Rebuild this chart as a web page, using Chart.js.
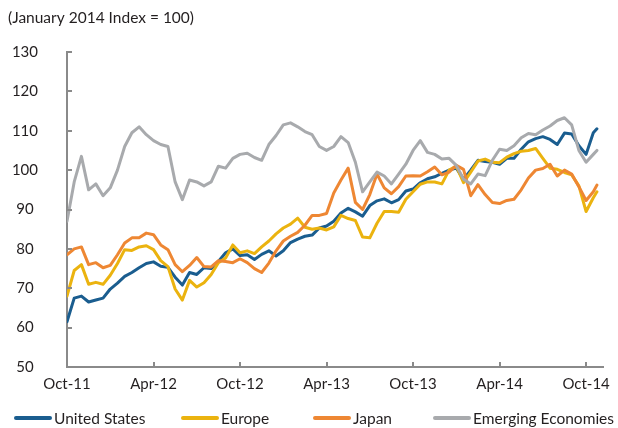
<!DOCTYPE html>
<html>
<head>
<meta charset="utf-8">
<title>Equity indices</title>
<script src="https://cdn.jsdelivr.net/npm/chart.js@4.4.1/dist/chart.umd.min.js"></script>
<style>
html,body{margin:0;padding:0;background:#ffffff;}
#wrap{position:relative;width:618px;height:428px;}
canvas{display:block;}
</style>
</head>
<body>
<div id="wrap"><canvas id="chart" width="618" height="428"></canvas></div>
<script>
const titleText = '(January 2014 Index = 100)';
// months since October 2011
const months = [0,0.5,1,1.5,2,2.5,3,3.5,4,4.5,5,5.5,6,6.5,7,7.5,8,8.5,9,9.5,10,10.5,11,11.5,12,12.5,13,13.5,14,14.5,15,15.5,16,16.5,17,17.5,18,18.5,19,19.5,20,20.5,21,21.5,22,22.5,23,23.5,24,24.5,25,25.5,26,26.5,27,27.5,28,28.5,29,29.5,30,30.5,31,31.5,32,32.5,33,33.5,34,34.5,35,35.5,36,36.5,36.75];
const xTickValues = [0,6,12,18,24,30,36];
const xTickLabels = ['Oct-11','Apr-12','Oct-12','Apr-13','Oct-13','Apr-14','Oct-14'];
const seriesNames = ['United States','Europe','Japan','Emerging Economies'];
const unitedStates = [61.5,67.5,68,66.5,67,67.5,69.8,71.3,73,74,
  75.2,76.3,76.7,75.6,75.3,72.8,70.8,74,73.5,75.2,
  75,76.8,79,80,78.3,78.5,77.3,78.6,79.5,78.2,
  79.5,81.6,82.5,83.2,83.5,85.3,85.8,87,89.1,90.3,
  89.4,88.3,91,92.2,92.7,91.7,92.5,94.7,95.2,96.8,
  97.8,98.3,99.2,100,100.5,97.7,100,102.5,102.2,102,
  101.5,103,103,105.3,107.2,108,108.5,107.8,106.5,109.4,
  109.2,106.2,104,109.5,110.5];
const europe = [68,74.5,76,71,71.5,71,73.3,76.3,79.8,79.6,
  80.5,80.8,79.8,77,75.5,69.8,67,72,70.3,71.4,
  73.5,76.5,77.7,81,79,79.5,78.8,80.5,82,83.8,
  85.3,86.3,87.8,85.5,85,85.3,84.8,85.6,88.5,87.7,
  87.2,83,82.8,86.5,89.5,89.5,89.3,92.6,94.5,96.4,
  97,97,96.5,100,101,96.8,99.5,102.3,102.8,102,
  101.9,103.3,104.2,104.8,105,105.5,103,100.5,100.2,99.4,
  98.8,96,89.5,93,94.5];
const japan = [78.5,80,80.5,76,76.5,75.2,75.8,78.5,81.5,82.8,
  82.8,84,83.6,81,79.8,76,74.2,75.8,77.8,75.5,
  75.4,77,76.8,76.5,77.5,76.5,75,74,76.4,79.5,
  82,83.2,84.2,86,88.5,88.5,89,94.2,97.5,100.5,
  91.8,90,93.8,99,95.5,94,95.8,98.5,98.6,98.5,
  99.6,100.8,98.8,99.5,101.2,100.2,93.5,96.3,93.8,91.8,
  91.5,92.3,92.6,95,98,100,100.4,101.5,98.5,100,
  99,95.8,92.3,94.5,96.2];
const emergingEconomies = [87,97,103.5,95,96.5,93.5,95.5,100,106,109.5,
  111,109,107.5,106.5,106,97,92.5,97.5,97,96,
  97,101,100.5,103,104,104.3,103.2,102.5,106.5,108.8,
  111.5,112,111,109.8,109,106,105,106,108.5,107,
  102,94.5,97,99.5,98.5,96.5,99,101.5,105,107.5,
  104.5,104,102.8,103,101.2,97.7,96.5,99,98.6,102.5,
  105.3,105,106.2,108.2,109.3,109,110.2,111.2,112.6,113.3,
  111.5,105,102,104,105];
const seriesValues = [unitedStates, europe, japan, emergingEconomies];
const seriesColors = ['#1a5d8f','#ebb30f','#ee8733','#a8aaad'];

const FONT = 'Lato, "Open Sans", "DejaVu Sans", sans-serif';
const TEXT = '#231f20';
const AXIS = '#8a8a8a';
const legendX = [14, 181, 313, 433];

function toPoints(vals){ return months.map((m,i)=>({x:m,y:vals[i]})); }

const innerTicks = {
  id:'innerTicks',
  afterDraw(chart){
    const {ctx, chartArea, scales:{x,y}} = chart;
    ctx.save();
    ctx.strokeStyle = AXIS; ctx.lineWidth = 2;
    ctx.beginPath();
    y.ticks.forEach(t=>{
      if (t.value === y.min) return;
      const py = Math.round(y.getPixelForValue(t.value));
      ctx.moveTo(chartArea.left, py); ctx.lineTo(chartArea.left + 5, py);
    });
    x.ticks.forEach(t=>{
      if (t.value === x.min) return;
      const px = Math.round(x.getPixelForValue(t.value));
      ctx.moveTo(px, chartArea.bottom); ctx.lineTo(px, chartArea.bottom - 5);
    });
    ctx.stroke();
    ctx.restore();
  }
};

const bottomLegend = {
  id:'bottomLegend',
  afterDraw(chart){
    const ctx = chart.ctx;
    ctx.save();
    ctx.font = '15.5px ' + FONT;
    ctx.textBaseline = 'middle';
    ctx.textAlign = 'left';
    const yMid = 418;
    chart.data.datasets.forEach((ds,i)=>{
      const x = legendX[i];
      ctx.strokeStyle = ds.borderColor; ctx.lineWidth = 4; ctx.lineCap = 'round';
      ctx.beginPath(); ctx.moveTo(x + 2, yMid); ctx.lineTo(x + 36, yMid); ctx.stroke();
      ctx.fillStyle = TEXT;
      ctx.fillText(ds.label, x + 40, yMid + 1);
    });
    ctx.restore();
  }
};

function draw(){
  const datasets = seriesNames.map((name,i)=>({
    label: name,
    data: toPoints(seriesValues[i]),
    borderColor: seriesColors[i],
    backgroundColor: seriesColors[i],
    borderWidth: 3,
    pointRadius: 0,
    tension: 0,
    fill: false,
    order: seriesNames.length - 1 - i
  }));
  new Chart(document.getElementById('chart'), {
    type: 'line',
    data: { datasets },
    options: {
      responsive: false,
      animation: false,
      devicePixelRatio: 1,
      layout: { padding: { left: 8, right: 6, top: 0, bottom: 0 } },
      plugins: {
        legend: { display: false },
        tooltip: { enabled: false },
        title: {
          display: true, text: titleText, align: 'start', color: TEXT,
          font: { family: FONT, size: 15.5, weight: 'normal', lineHeight: 1.2 },
          padding: { top: 9, bottom: 24.4 }
        }
      },
      elements: { line: { borderJoinStyle: 'round', borderCapStyle: 'round' } },
      scales: {
        x: {
          type: 'linear', min: 0, max: 37.2,
          grid: { display: false, drawTicks: false },
          border: { display: true, color: AXIS, width: 2 },
          afterBuildTicks: (s)=>{ s.ticks = xTickValues.map(v=>({value:v})); },
          afterFit: (s)=>{ s.height = 61; },
          ticks: {
            padding: 8, color: TEXT, font: { family: FONT, size: 15 },
            maxRotation: 0, autoSkip: false,
            callback: (v)=> xTickLabels[xTickValues.indexOf(v)]
          }
        },
        y: {
          min: 50, max: 130,
          grid: { display: false, drawTicks: false },
          border: { display: true, color: AXIS, width: 2 },
          afterFit: (s)=>{ s.width = 59; },
          ticks: { stepSize: 10, padding: 29, crossAlign: 'center', color: TEXT, font: { family: FONT, size: 15 } }
        }
      }
    },
    plugins: [innerTicks, bottomLegend]
  });
}
if (document.fonts && document.fonts.load) {
  document.fonts.load('15px Lato').then(draw, draw);
} else { draw(); }
</script>
</body>
</html>
